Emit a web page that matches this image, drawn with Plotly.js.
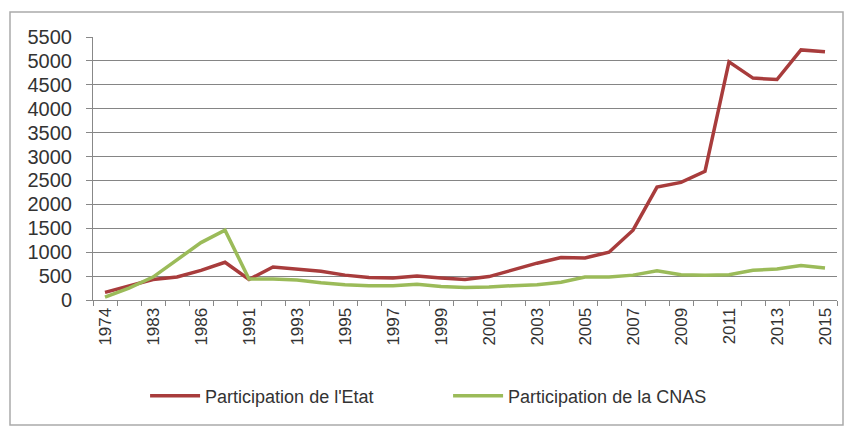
<!DOCTYPE html>
<html><head><meta charset="utf-8">
<script src="https://cdn.plot.ly/plotly-3.0.1.min.js"></script>
<style>body{margin:0;background:#fff}#c{width:853px;height:429px}</style>
</head><body><div id="c"></div>
<script>
const years = ["1974","1980","1983","1984","1986","1989","1991","1992","1993","1994","1995","1996","1997","1998","1999","2000","2001","2002","2003","2004","2005","2006","2007","2008","2009","2010","2011","2012","2013","2014","2015"];
const shownLabels = ["1974","1983","1986","1991","1993","1995","1997","1999","2001","2003","2005","2007","2009","2011","2013","2015"];
const etat = [160,300,430,480,620,790,430,690,650,600,520,470,460,500,460,430,490,630,770,890,880,1000,1460,2360,2460,2690,4980,4640,4610,5230,5190];
const cnas = [60,250,480,830,1200,1460,440,440,420,360,320,300,300,330,280,260,270,300,320,370,480,480,520,610,530,520,530,620,650,720,670];
const names = ["Participation de l'Etat","Participation de la CNAS"];

const ticktext = years.map(y => shownLabels.includes(y) ? y : "");
const traces = [
  {x: years, y: etat, name: names[0], type: "scatter", mode: "lines", line: {color: "#A83C3C", width: 3.5}},
  {x: years, y: cnas, name: names[1], type: "scatter", mode: "lines", line: {color: "#9BBB59", width: 3.5}}
];
const layout = {
  width: 853, height: 429,
  margin: {l: 93, r: 16, t: 37, b: 129, autoexpand: false},
  paper_bgcolor: "#fff", plot_bgcolor: "#fff",
  font: {family: "Liberation Sans, Arial, sans-serif", color: "#333"},
  showlegend: true,
  legend: {orientation: "h", x: 0.07, y: -0.365, xanchor: "left", yanchor: "middle", bgcolor: "rgba(0,0,0,0)",
           font: {size: 18, color: "#333"}, entrywidth: 238, entrywidthmode: "pixels", itemwidth: 50},
  xaxis: {type: "category", range: [-0.5, 30.5], tickvals: years, ticktext: ticktext, tickangle: -90, automargin: false,
          ticks: "outside", tickson: "boundaries", ticklen: 5, tickcolor: "#888",
          showline: true, linecolor: "#888", showgrid: false, tickfont: {size: 17, color: "#333"}},
  yaxis: {range: [0, 5500], dtick: 500, tick0: 0, ticks: "outside", ticklen: 6, tickcolor: "#888", automargin: false,
          showline: true, linecolor: "#888", gridcolor: "#858585", gridwidth: 1, zeroline: false,
          ticklabelstandoff: 10, tickfont: {size: 20, color: "#333"}},
  shapes: [{type: "rect", xref: "paper", yref: "paper", x0: (10-93)/744, x1: (843-93)/744, y0: (300-425)/263, y1: (300-12)/263,
            line: {color: "#aaa", width: 1.5}, fillcolor: "rgba(0,0,0,0)"}]
};
Plotly.newPlot("c", traces, layout, {displayModeBar: false, staticPlot: true});
</script></body></html>
